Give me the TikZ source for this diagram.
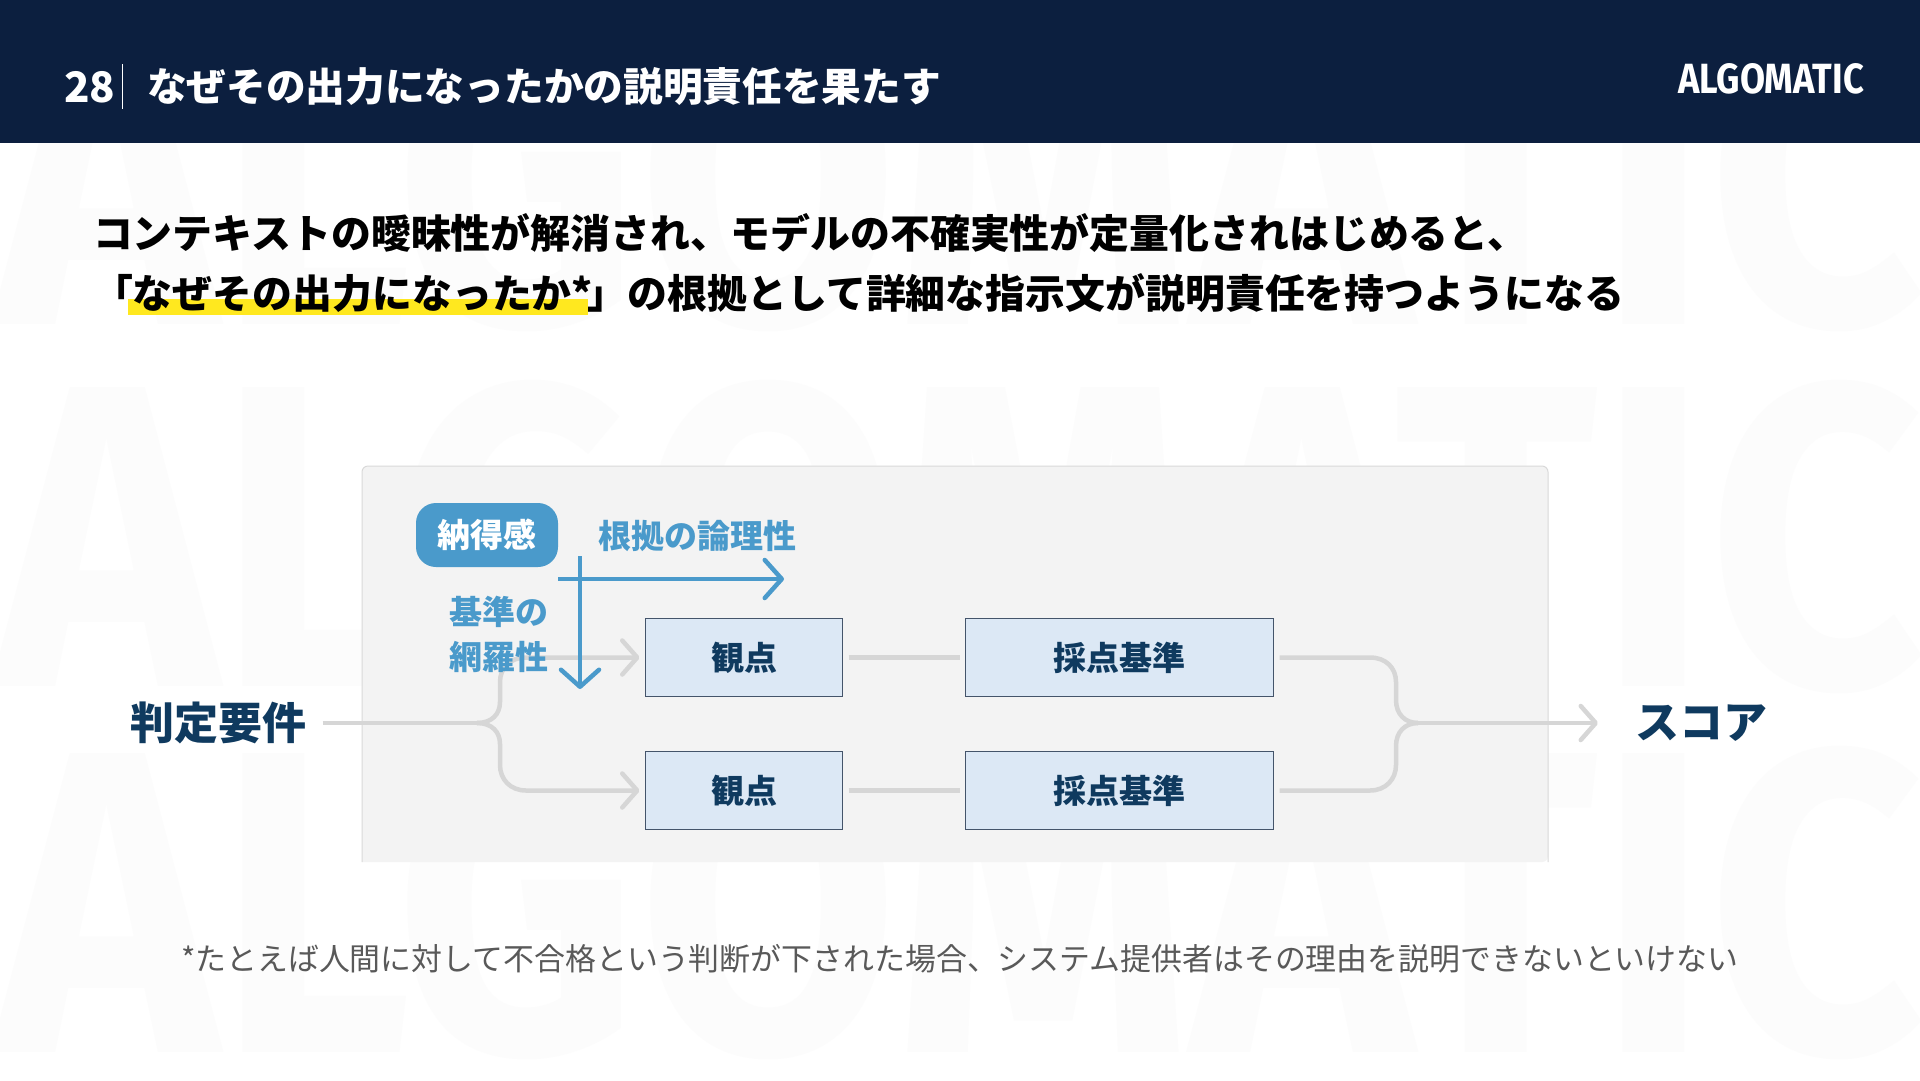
\documentclass[tikz,border=0pt]{standalone}
\usepackage{graphicx}
\usepackage{fontspec}
\usetikzlibrary{positioning,calc,arrows.meta}
\setmainfont{Noto Sans CJK JP}
\newfontfamily\markfont{Fira Sans}
\definecolor{cNavy}{HTML}{0C1F3F}
\definecolor{cInk}{HTML}{0F3A5F}
\definecolor{cBlue}{HTML}{4A9ACB}
\definecolor{cBox}{HTML}{DCE8F5}
\definecolor{cEdge}{HTML}{44546A}
\definecolor{cFlow}{HTML}{D6D6D6}
\definecolor{cPanel}{HTML}{F3F3F3}
\definecolor{cRim}{HTML}{D9D9D9}
\definecolor{cMark}{HTML}{FCFCFC}
\definecolor{cNote}{HTML}{595959}
\definecolor{cHigh}{HTML}{FFE81F}
\newcommand{\px}[1]{\fontsize{#1}{#1}\selectfont}
\tikzset{
  every node/.style={inner sep=0pt,outer sep=0pt},
  head/.style={anchor=base west,text=white,font=\bfseries\px{39.7}},
  lead/.style={anchor=base west,text=black,font=\bfseries\px{39.9}},
  viewbox/.style={draw=cEdge,line width=1.4pt,fill=cBox,text=cInk,font=\bfseries\px{33},minimum width=197pt,minimum height=78pt},
  critbox/.style={viewbox,minimum width=308pt},
  side/.style={text=cInk,font=\bfseries\px{44}},
  axislabel/.style={text=cBlue,font=\bfseries\px{33}},
  flow/.style={draw=cFlow,line width=4.5pt},
  flowin/.style={flow,-{Straight Barb[length=15pt,width=34pt,line width=4.5pt,round]}},
  axisline/.style={draw=cBlue,line width=4.5pt,-{Straight Barb[length=17pt,width=38pt,line width=4.5pt,round]}},
}
\begin{document}
\begin{tikzpicture}[x=1pt,y=-1pt]
  \useasboundingbox (0,0) rectangle (1920,1080);
  \fill[white] (0,0) rectangle (1920,1080);
  % backdrop lettering
  \foreach \n/\y in {a/332,b/694,c/1060}
    \node[anchor=south west,text=cMark] (mark\n) at (-4,\y) {\resizebox{1925pt}{306pt}{\markfont\bfseries ALGOMATIC}};
  % header band
  \fill[cNavy] (0,0) rectangle (1920,143);
  \node[head,font=\bfseries\px{42}] (num) at (64,102) {28};
  \coordinate (barT) at (122.5,64);
  \coordinate (barB) at (122.5,109);
  \draw[white,line width=1pt] (barT) -- (barB);
  \node[head] (title) at (147,101) {なぜその出力になったかの説明責任を果たす};
  \node[anchor=north east,text=white] (logo) at (1864,63) {\resizebox{186pt}{30pt}{\markfont\bfseries ALGOMATIC}};
  % lead text
  \fill[cHigh] (127.5,299) rectangle (588,315);
  \node[lead] (lineA) at (93,248) {コンテキストの曖昧性が解消され、モデルの不確実性が定量化されはじめると、};
  \node[lead] (lineB) at (93,308.5) {「なぜその出力になったか*\kern-5pt」の根拠として詳細な指示文が説明責任を持つようになる};
  % panel, open along the bottom
  \fill[cPanel,rounded corners=6pt] (362,862) |- (1548,466) -- (1548,862) [sharp corners] -- cycle;
  \draw[cRim,line width=1pt,rounded corners=6pt] (362,862) |- (1548,466) -- (1548,862);
  % boxes
  \node[viewbox] (viewA) at (744,657.5) {観点};
  \node[viewbox] (viewB) at (744,790.5) {観点};
  \node[critbox] (critA) at (1119.5,657.5) {採点基準};
  \node[critbox] (critB) at (1119.5,790.5) {採点基準};
  \node[side] (req) at (218.5,723) {判定要件};
  \node[side] (score) at (1701,723) {スコア};
  % flow lines
  \coordinate (forkL) at (477,723);
  \coordinate (forkR) at (1418,723);
  \draw[flow,shorten <=16pt] (req.east) -- (forkL);
  \draw[flowin,shorten >=6pt] (forkL) .. controls (492,723) and (500,714) .. (500,702) -- (500,682) .. controls (500,668) and (510,657.5) .. (526,657.5) -- (viewA.west);
  \draw[flowin,shorten >=6pt] (forkL) .. controls (492,723) and (500,732) .. (500,744) -- (500,765) .. controls (500,779) and (510,790.5) .. (526,790.5) -- (viewB.west);
  \foreach \a/\b in {viewA/critA,viewB/critB}
    \draw[flow,shorten <=6pt,shorten >=6pt] (\a.east) -- (\b.west);
  \draw[flow,shorten <=6pt] (critA.east) -- (1370,657.5) .. controls (1386,657.5) and (1396,668) .. (1396,682) -- (1396,700) .. controls (1396,714) and (1405,723) .. (forkR);
  \draw[flow,shorten <=6pt] (critB.east) -- (1370,790.5) .. controls (1386,790.5) and (1396,779) .. (1396,765) -- (1396,746) .. controls (1396,732) and (1405,723) .. (forkR);
  \draw[flowin,shorten >=37pt] (forkR) -- (score.west);
  % axes
  \node[fill=cBlue,rounded corners=20pt,text=white,font=\bfseries\px{33},minimum width=142pt,minimum height=64pt] (fit) at (487,535) {納得感};
  \node[axislabel] (logic) at (697,536) {根拠の論理性};
  \node[axislabel] (baseA) at (499,612) {基準の};
  \node[axislabel] (baseB) at (499,657) {網羅性};
  \coordinate (axisV) at (580,556);
  \coordinate (axisVend) at (580,689);
  \coordinate (axisHend) at (784,579);
  \draw[axisline] (axisV) -- (axisVend);
  \draw[axisline] (fit.east|-axisHend) -- (axisHend);
  % footnote
  \node[anchor=base west,text=cNote,font=\px{30.9}] (note) at (181,970) {*たとえば人間に対して不合格という判断が下された場合、システム提供者はその理由を説明できないといけない};
\end{tikzpicture}
\end{document}
